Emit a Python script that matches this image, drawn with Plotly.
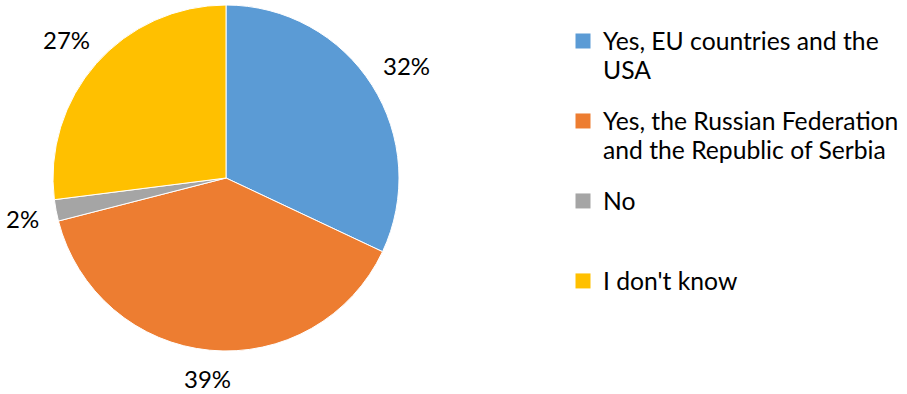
import math
import plotly.graph_objects as go

categories = ["Yes, EU countries and the<br>USA",
              "Yes, the Russian Federation<br>and the Republic of Serbia",
              "No",
              "I don't know"]
values = [32, 39, 2, 27]
colors = ["#5B9BD5", "#ED7D31", "#A5A5A5", "#FFC000"]

W, H = 907, 394
CX, CY, R = 226, 178, 173          # pie centre and radius in pixels
LEG_FS = 22.3                      # legend font (line pitch ~29px)
TXT_FS = 24.7                      # visible legend text size
LBL_FS = 24                        # percentage label size
GAP = 17.5                         # gap between pie edge and label box

fig = go.Figure()
fig.add_trace(go.Pie(
    labels=[c.replace("<br>", " ") for c in categories],
    values=values,
    sort=False,
    direction="clockwise",
    rotation=0,
    marker=dict(colors=colors, line=dict(color="white", width=1)),
    textinfo="none",
    domain=dict(x=[(CX - R) / W, (CX + R) / W], y=[1 - (CY + R) / H, 1 - (CY - R) / H]),
    showlegend=False,
    hoverinfo="label+percent",
))

# legend entries (one group each so they can be evenly spaced)
for i, (c, col) in enumerate(zip(categories, colors)):
    lines = c.split("<br>")
    if len(lines) == 1 and i < len(categories) - 1:
        lines.append(" ")
    name = "<br>".join(f"<span style='font-size:{TXT_FS}px'>{ln}</span>" for ln in lines)
    fig.add_trace(go.Scatter(
        x=[None], y=[None], mode="markers", name=name,
        marker=dict(symbol="square", size=15, color=col),
        legendgroup=f"g{i}", showlegend=True, hoverinfo="skip",
    ))

# percentage labels placed outside each slice, Excel-style
total = sum(values)
cum = 0
annotations = []
for v in values:
    mid = (cum + v / 2) / total * 2 * math.pi
    cum += v
    ux, uy = math.sin(mid), -math.cos(mid)
    txt = f"{round(v / total * 100)}%"
    hw = len(txt) * 7.6
    hh = 7
    d = R + GAP + abs(ux) * hw + abs(uy) * hh
    px, py = CX + ux * d, CY + uy * d + 2
    annotations.append(dict(
        x=px / W, y=1 - py / H, xref="paper", yref="paper",
        text=txt, showarrow=False, xanchor="center", yanchor="middle",
        font=dict(family="Lato", size=LBL_FS, color="#000000"),
    ))

fig.update_layout(
    width=W, height=H,
    margin=dict(l=0, r=0, t=0, b=0),
    paper_bgcolor="white",
    plot_bgcolor="white",
    font=dict(family="Lato", color="#000000"),
    annotations=annotations,
    xaxis=dict(visible=False),
    yaxis=dict(visible=False),
    legend=dict(
        x=563 / W, xanchor="left",
        y=1 - 20 / H, yanchor="top",
        valign="top",
        tracegroupgap=19,
        traceorder="grouped",
        font=dict(family="Lato", size=LEG_FS, color="#000000"),
        bgcolor="rgba(0,0,0,0)",
    ),
)

fig.write_html("out.html")
